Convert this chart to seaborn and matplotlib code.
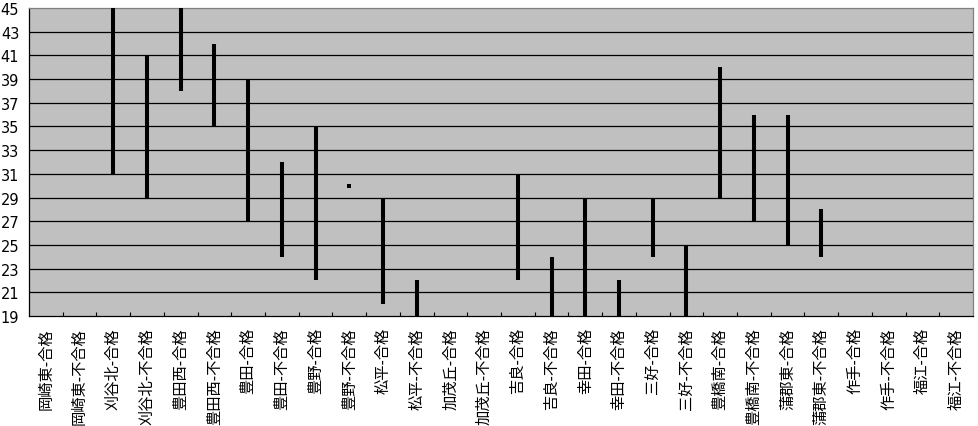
import matplotlib
matplotlib.use("Agg")
import matplotlib.pyplot as plt
import seaborn as sns
import pandas as pd
import numpy as np
from matplotlib.ticker import FixedLocator

categories = ["岡崎東-合格", "岡崎東-不合格", "刈谷北-合格", "刈谷北-不合格",
              "豊田西-合格", "豊田西-不合格", "豊田-合格", "豊田-不合格",
              "豊野-合格", "豊野-不合格", "松平-合格", "松平-不合格",
              "加茂丘-合格", "加茂丘-不合格", "吉良-合格", "吉良-不合格",
              "幸田-合格", "幸田-不合格", "三好-合格", "三好-不合格",
              "豊橋南-合格", "豊橋南-不合格", "蒲郡東-合格", "蒲郡東-不合格",
              "作手-合格", "作手-不合格", "福江-合格", "福江-不合格"]
low_values = [None, None, 31, 29, 38, 35, 27, 24, 22, 30, 20, 19,
              None, None, 22, 19, 19, 19, 24, 19, 29, 27, 25, 24,
              None, None, None, None]
high_values = [None, None, 45, 41, 45, 42, 39, 32, 35, 30, 29, 22,
               None, None, 31, 24, 29, 22, 29, 25, 40, 36, 36, 28,
               None, None, None, None]
y_ticks = list(range(19, 46, 2))

sns.set_theme(style="white")
plt.rcParams['font.family'] = ['Noto Sans CJK JP', 'DejaVu Sans']

rows = []
for i, (c, lo, hi) in enumerate(zip(categories, low_values, high_values)):
    if lo is None:
        continue
    rows.append({"pos": i, "cat": c, "value": lo})
    rows.append({"pos": i, "cat": c, "value": hi})
df = pd.DataFrame(rows)
ranges = df[df.groupby("cat")["value"].transform(lambda s: s.max() > s.min())]
points = df[df.groupby("cat")["value"].transform(lambda s: s.max() == s.min())].drop_duplicates("cat")

fig = plt.figure(figsize=(9.79, 4.27), dpi=100)
ax = fig.add_axes([29/979, 1-317/427, 944/979, 308/427])
ax.set_facecolor("#C0C0C0")

for v in y_ticks[1:-1]:
    ax.axhline(v, color="black", lw=0.9, zorder=1)

sns.lineplot(data=ranges, x="pos", y="value", units="cat", estimator=None,
             color="black", lw=2.9, ax=ax, legend=False, zorder=3,
             solid_capstyle="butt")
sns.scatterplot(data=points, x="pos", y="value", marker="s", s=7,
                color="black", edgecolor="black", linewidth=0, ax=ax, zorder=3)

ax.set_xlim(-0.5, len(categories) - 0.5)
ax.set_ylim(19, 45)
ax.set_yticks(y_ticks)
ax.set_yticklabels([str(v) for v in y_ticks], fontsize=10.5,
                   family=['DejaVu Sans'])
ax.set_xticks(range(len(categories)))
ax.set_xticklabels(categories, rotation=90, fontsize=11, va="top", ha="center")
ax.xaxis.set_minor_locator(FixedLocator(np.arange(0.5, len(categories) - 0.5, 1)))
ax.tick_params(axis="x", which="major", length=0, pad=8, colors="black")
ax.tick_params(axis="x", which="minor", direction="in", length=3, width=0.8,
               color="black", bottom=True)
ax.tick_params(axis="y", length=0, pad=7, colors="black")
ax.set_xlabel("")
ax.set_ylabel("")

for s in ["left", "bottom"]:
    ax.spines[s].set_color("black")
    ax.spines[s].set_linewidth(0.9)
for s in ["top", "right"]:
    ax.spines[s].set_color("#808080")
    ax.spines[s].set_linewidth(0.9)

fig.savefig("out.png", dpi=100)
